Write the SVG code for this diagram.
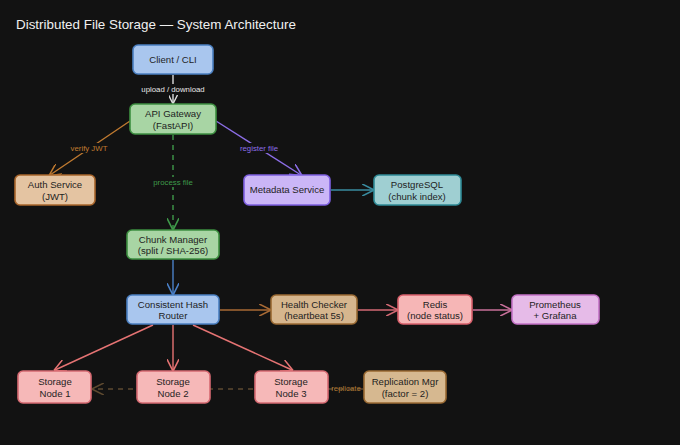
<svg xmlns="http://www.w3.org/2000/svg" width="680" height="445" viewBox="0 0 680 445">
<style>
text{font-family:"Liberation Sans","DejaVu Sans",sans-serif;}
.n{font-size:9.6px;fill:#1e1e1e;text-anchor:middle;}
.l{font-size:7.8px;text-anchor:middle;}
rect{stroke-width:1.6;}
.e{fill:none;stroke-width:1.4;}
</style>
<defs>
<marker id="aw" viewBox="0 0 10 10" refX="9" refY="5" markerWidth="9" markerHeight="9" orient="auto-start-reverse" markerUnits="userSpaceOnUse"><path d="M0,0 L10,5 L0,10" fill="none" stroke="#dddddd" stroke-width="1.5"/></marker>
<marker id="ao" viewBox="0 0 10 10" refX="9" refY="5" markerWidth="12" markerHeight="12" orient="auto" markerUnits="userSpaceOnUse"><path d="M0,0 L10,5 L0,10" fill="none" stroke="#c07a30" stroke-width="1.3"/></marker>
<marker id="ag" viewBox="0 0 10 10" refX="9" refY="5" markerWidth="12" markerHeight="12" orient="auto" markerUnits="userSpaceOnUse"><path d="M0,0 L10,5 L0,10" fill="none" stroke="#3f9a4a" stroke-width="1.3"/></marker>
<marker id="ap" viewBox="0 0 10 10" refX="9" refY="5" markerWidth="12" markerHeight="12" orient="auto" markerUnits="userSpaceOnUse"><path d="M0,0 L10,5 L0,10" fill="none" stroke="#8c6ee6" stroke-width="1.3"/></marker>
<marker id="at" viewBox="0 0 10 10" refX="9" refY="5" markerWidth="12" markerHeight="12" orient="auto" markerUnits="userSpaceOnUse"><path d="M0,0 L10,5 L0,10" fill="none" stroke="#3a8ca0" stroke-width="1.3"/></marker>
<marker id="ab" viewBox="0 0 10 10" refX="9" refY="5" markerWidth="12" markerHeight="12" orient="auto" markerUnits="userSpaceOnUse"><path d="M0,0 L10,5 L0,10" fill="none" stroke="#4a80c8" stroke-width="1.3"/></marker>
<marker id="abr" viewBox="0 0 10 10" refX="9" refY="5" markerWidth="12" markerHeight="12" orient="auto" markerUnits="userSpaceOnUse"><path d="M0,0 L10,5 L0,10" fill="none" stroke="#a86a35" stroke-width="1.3"/></marker>
<marker id="ak" viewBox="0 0 10 10" refX="9" refY="5" markerWidth="12" markerHeight="12" orient="auto" markerUnits="userSpaceOnUse"><path d="M0,0 L10,5 L0,10" fill="none" stroke="#d46a74" stroke-width="1.3"/></marker>
<marker id="am" viewBox="0 0 10 10" refX="9" refY="5" markerWidth="12" markerHeight="12" orient="auto" markerUnits="userSpaceOnUse"><path d="M0,0 L10,5 L0,10" fill="none" stroke="#c8709a" stroke-width="1.3"/></marker>
<marker id="ar" viewBox="0 0 10 10" refX="9" refY="5" markerWidth="12" markerHeight="12" orient="auto" markerUnits="userSpaceOnUse"><path d="M0,0 L10,5 L0,10" fill="none" stroke="#e57373" stroke-width="1.3"/></marker>
<marker id="ad" viewBox="0 0 10 10" refX="9" refY="5" markerWidth="12" markerHeight="12" orient="auto" markerUnits="userSpaceOnUse"><path d="M0,0 L10,5 L0,10" fill="none" stroke="#5e4a30" stroke-width="1.3"/></marker>
</defs>
<rect x="0" y="0" width="680" height="445" fill="#121212" stroke="none"/>
<text x="16" y="29" font-size="13.4" fill="#f0f0f0">Distributed File Storage — System Architecture</text>

<g id="connectors">
<line class="e" x1="173" y1="75" x2="173" y2="103" stroke="#dddddd" marker-end="url(#aw)"/>
<rect x="136" y="84" width="74" height="10" fill="#121212" stroke="none"/>
<text class="l" x="173" y="91.8" fill="#e8e8e8">upload / download</text>

<line class="e" x1="130" y1="121" x2="50" y2="175" stroke="#c07a30" marker-end="url(#ao)"/>
<rect x="66" y="143" width="46" height="10" fill="#121212" stroke="none"/>
<text class="l" x="89" y="150.8" fill="#c07a30">verify JWT</text>

<line class="e" x1="173" y1="135" x2="173" y2="229" stroke="#3f9a4a" stroke-dasharray="5 5" marker-end="url(#ag)"/>
<rect x="148" y="177" width="50" height="10" fill="#121212" stroke="none"/>
<text class="l" x="173" y="184.8" fill="#3f9a4a">process file</text>

<line class="e" x1="216" y1="121" x2="301" y2="175" stroke="#8c6ee6" marker-end="url(#ap)"/>
<rect x="233" y="143" width="52" height="10" fill="#121212" stroke="none"/>
<text class="l" x="259" y="150.8" fill="#8c6ee6">register file</text>

<line class="e" x1="331" y1="190" x2="373" y2="190" stroke="#3a8ca0" marker-end="url(#at)"/>
<line class="e" x1="173" y1="260" x2="173" y2="294" stroke="#4a80c8" marker-end="url(#ab)"/>
<line class="e" x1="220" y1="310" x2="270" y2="310" stroke="#a86a35" marker-end="url(#abr)"/>
<line class="e" x1="358" y1="310" x2="397" y2="310" stroke="#d46a74" marker-end="url(#ak)"/>
<line class="e" x1="473" y1="310" x2="511" y2="310" stroke="#c8709a" marker-end="url(#am)"/>

<line class="e" x1="153" y1="325" x2="55" y2="370" stroke="#e57373" marker-end="url(#ar)"/>
<line class="e" x1="173" y1="325" x2="173" y2="370" stroke="#e57373" marker-end="url(#ar)"/>
<line class="e" x1="193" y1="325" x2="292" y2="370" stroke="#e57373" marker-end="url(#ar)"/>

<line class="e" x1="363" y1="389" x2="93" y2="389" stroke="#5e4a30" stroke-dasharray="5 5" marker-end="url(#ad)"/>
<text class="l" x="346" y="391" fill="#b07a35">replicate</text>
</g>

<g id="client"><rect x="133" y="45" width="80" height="29" rx="5" fill="#a9c6ee" stroke="#4a7fc1"/><text class="n" x="173" y="62.8">Client / CLI</text></g>
<g id="api-gateway"><rect x="130" y="104" width="86" height="30" rx="5" fill="#a8d5a4" stroke="#3d8f40"/><text class="n" x="173" y="117">API Gateway</text><text class="n" x="173" y="128.5">(FastAPI)</text></g>
<g id="auth-service"><rect x="15" y="175" width="80" height="30" rx="5" fill="#e4c4a2" stroke="#a8652b"/><text class="n" x="55" y="188">Auth Service</text><text class="n" x="55" y="199.5">(JWT)</text></g>
<g id="metadata-service"><rect x="244" y="175" width="86" height="30" rx="5" fill="#cbb6f7" stroke="#7d5fe0"/><text class="n" x="287" y="193.3">Metadata Service</text></g>
<g id="postgresql"><rect x="374" y="175" width="87" height="30" rx="5" fill="#9fcfd2" stroke="#2f8a96"/><text class="n" x="417" y="188">PostgreSQL</text><text class="n" x="417" y="199.5">(chunk index)</text></g>
<g id="chunk-manager"><rect x="127" y="230" width="92" height="29" rx="5" fill="#a8d5a4" stroke="#3d8f40"/><text class="n" x="173" y="242.5">Chunk Manager</text><text class="n" x="173" y="254">(split / SHA-256)</text></g>
<g id="hash-router"><rect x="127" y="295" width="92" height="29" rx="5" fill="#a9c6ee" stroke="#4a7fc1"/><text class="n" x="173" y="307.5">Consistent Hash</text><text class="n" x="173" y="319">Router</text></g>
<g id="health-checker"><rect x="271" y="295" width="86" height="29" rx="5" fill="#d6b68e" stroke="#9a6a33"/><text class="n" x="314" y="307.5">Health Checker</text><text class="n" x="314" y="319">(heartbeat 5s)</text></g>
<g id="redis"><rect x="398" y="295" width="74" height="29" rx="5" fill="#f6b6b6" stroke="#d9606c"/><text class="n" x="435" y="307.5">Redis</text><text class="n" x="435" y="319">(node status)</text></g>
<g id="prometheus"><rect x="512" y="295" width="87" height="29" rx="5" fill="#e6bbe8" stroke="#c472c6"/><text class="n" x="555" y="307.5">Prometheus</text><text class="n" x="555" y="319">+ Grafana</text></g>
<g id="storage-1"><rect x="18" y="371" width="73" height="32" rx="5" fill="#f6b8b8" stroke="#d66a72"/><text class="n" x="55" y="385">Storage</text><text class="n" x="55" y="396.5">Node 1</text></g>
<g id="storage-2"><rect x="137" y="371" width="73" height="32" rx="5" fill="#f6b8b8" stroke="#d66a72"/><text class="n" x="173" y="385">Storage</text><text class="n" x="173" y="396.5">Node 2</text></g>
<g id="storage-3"><rect x="255" y="371" width="73" height="32" rx="5" fill="#f6b8b8" stroke="#d66a72"/><text class="n" x="291" y="385">Storage</text><text class="n" x="291" y="396.5">Node 3</text></g>
<g id="replication-mgr"><rect x="364" y="371" width="82" height="32" rx="5" fill="#d6b890" stroke="#9a6a33"/><text class="n" x="405" y="385">Replication Mgr</text><text class="n" x="405" y="396.5">(factor = 2)</text></g>
</svg>
